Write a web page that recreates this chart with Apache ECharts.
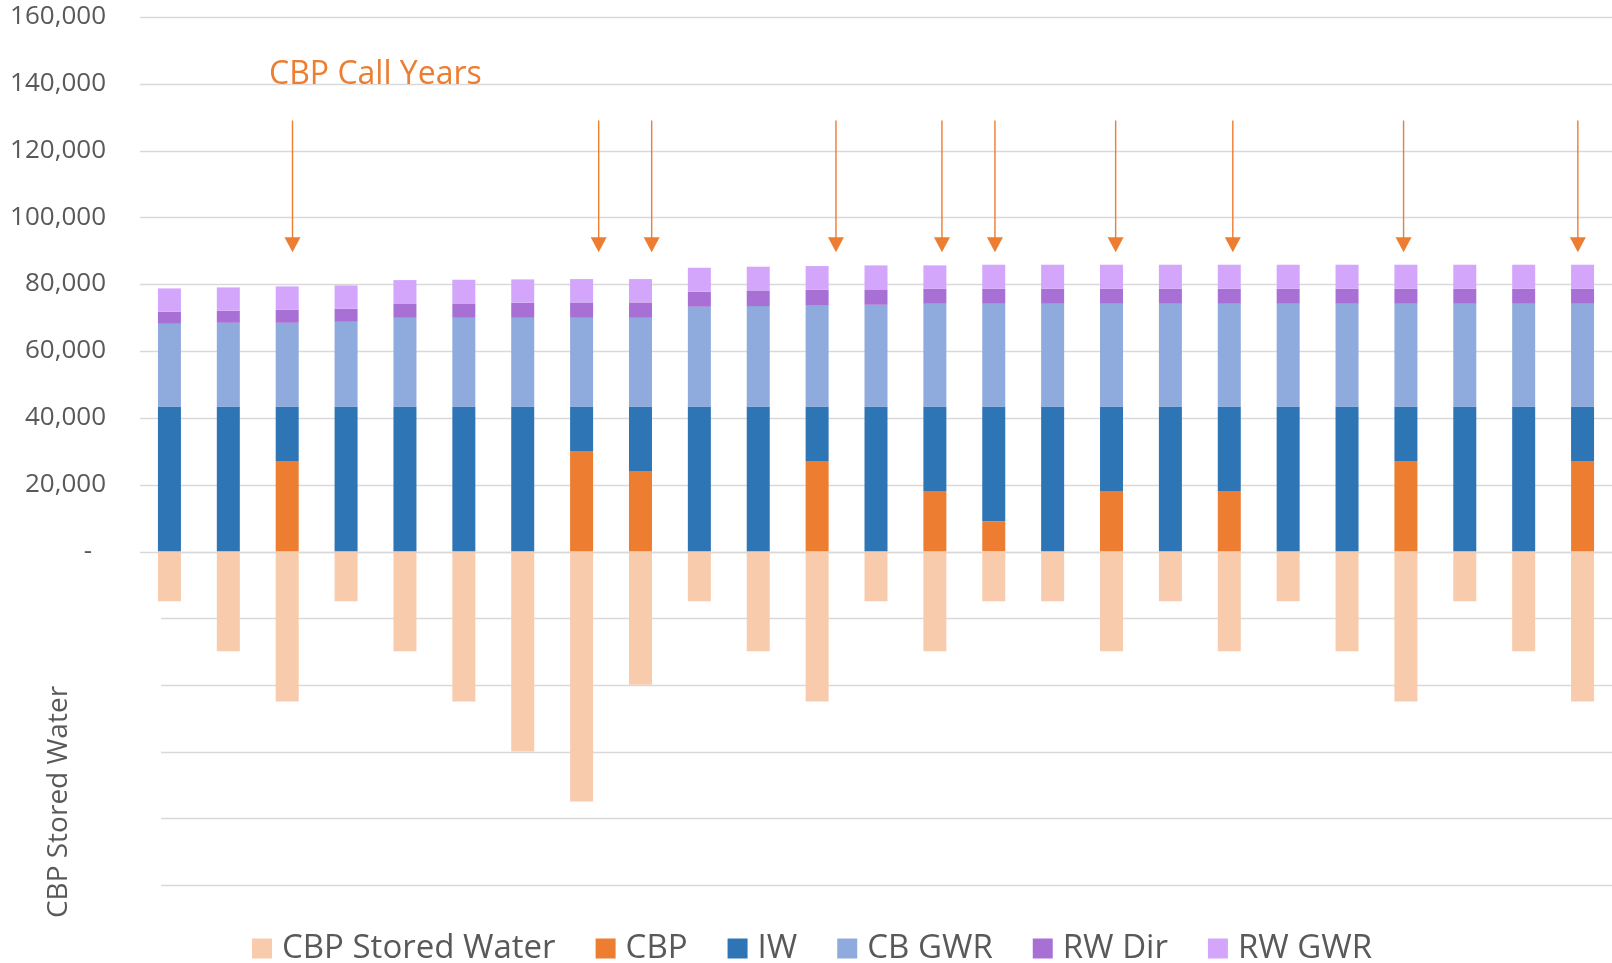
<!DOCTYPE html>
<html>
<head>
<meta charset="utf-8">
<style>
  html, body { margin: 0; padding: 0; background: #ffffff; }
  #chart { width: 1612px; height: 963px; }
</style>
<script src="https://cdn.jsdelivr.net/npm/echarts@6/dist/echarts.min.js"></script>
</head>
<body>
<div id="chart"></div>
<script>
// ---- data ----
const categories = ['Yr 1','Yr 2','Yr 3','Yr 4','Yr 5','Yr 6','Yr 7','Yr 8','Yr 9','Yr 10','Yr 11','Yr 12','Yr 13',
                    'Yr 14','Yr 15','Yr 16','Yr 17','Yr 18','Yr 19','Yr 20','Yr 21','Yr 22','Yr 23','Yr 24','Yr 25'];
const cbpStored = [-15000,-30000,-45000,-15000,-30000,-45000,-60000,-75000,-40000,-15000,-30000,-45000,-15000,
                   -30000,-15000,-15000,-30000,-15000,-30000,-15000,-30000,-45000,-15000,-30000,-45000];
const cbp       = [0,0,27000,0,0,0,0,30000,24000,0,0,27000,0,18000,9000,0,18000,0,18000,0,0,27000,0,0,27000];
const iw        = [43300,43300,16300,43300,43300,43300,43300,13300,19300,43300,43300,16300,43300,
                   25300,34300,43300,25300,43300,25300,43300,43300,16300,43300,43300,16300];
const cbGwr     = [24800,25100,25100,25400,26600,26600,26600,26600,26600,29900,30100,30400,30500,
                   30800,30800,30800,30800,30800,30800,30800,30800,30800,30800,30800,30800];
const rwDir     = [3600,3600,3900,3900,4300,4300,4500,4600,4600,4500,4700,4600,4600,
                   4500,4500,4500,4500,4500,4500,4500,4500,4500,4500,4500,4500];
const rwGwr     = [7000,7000,7000,7000,7000,7100,7000,7000,7000,7200,7100,7100,7200,
                   7000,7200,7200,7200,7200,7200,7200,7200,7200,7200,7200,7200];
const callYears = ['Yr 3','Yr 8','Yr 9','Yr 12','Yr 14','Yr 15','Yr 17','Yr 19','Yr 22','Yr 25'];
const yTicks    = [0,20000,40000,60000,80000,100000,120000,140000,160000];
const seriesNames = ['CBP Stored Water','CBP','IW','CB GWR','RW Dir','RW GWR'];

// ---- styling / annotation placement ----
const colors = ['#F8CBAD','#ED7D31','#2E75B6','#8FAADC','#A870D4','#D3A6FC'];
const FONT = 'Open Sans';
const GREY = '#595959';
const GRID_LINE = { color: '#D9D9D9', width: 1.3 };
const ARROW_TOP = 129000, ARROW_TIP = 89500;
// hand-drawn arrows sit slightly off the bar centres (fraction of a category band)
const arrowShift = [0.09, 0.29, 0.19, 0.32, 0.12, 0.02, 0.07, 0.06, -0.04, -0.08];

const chart = echarts.init(document.getElementById('chart'), null, { renderer: 'canvas' });

const barSeries = [cbpStored, cbp, iw, cbGwr, rwDir, rwGwr].map((d, i) => ({
  name: seriesNames[i],
  type: 'bar',
  stack: 'all',
  xAxisIndex: 0, yAxisIndex: 0,
  barWidth: 23,
  itemStyle: { color: colors[i] },
  data: d,
  z: 3
}));

const arrowSeries = {
  type: 'custom',
  name: 'arrows',
  xAxisIndex: 0, yAxisIndex: 0,
  data: callYears.map((c, i) => [c, ARROW_TIP, arrowShift[i]]),
  z: 5,
  silent: true,
  renderItem: function (params, api) {
    const cat = api.value(0);
    const band = api.size([1, 0])[0];
    const dx = api.value(2) * band;
    const top = api.coord([cat, ARROW_TOP]);
    const tip = api.coord([cat, ARROW_TIP]);
    const x = tip[0] + dx;
    const headH = 15, headW = 16;
    return {
      type: 'group',
      children: [
        { type: 'line', shape: { x1: x, y1: top[1], x2: x, y2: tip[1] - headH + 1 },
          style: { stroke: '#ED7D31', lineWidth: 1.4 } },
        { type: 'polygon', shape: { points: [[x - headW / 2, tip[1] - headH], [x + headW / 2, tip[1] - headH], [x, tip[1]]] },
          style: { fill: '#ED7D31' } }
      ]
    };
  }
};

const option = {
  animation: false,
  backgroundColor: '#ffffff',
  textStyle: { fontFamily: FONT },
  title: {
    text: 'CBP Call Years',
    left: 269, top: 59, padding: 0,
    textStyle: { color: '#ED7D31', fontFamily: FONT, fontSize: 32, fontWeight: 'normal' }
  },
  legend: {
    data: seriesNames,
    left: 252, top: 932, padding: 0,
    icon: 'rect',
    itemWidth: 20, itemHeight: 20,
    itemGap: 40,
    textStyle: { color: GREY, fontFamily: FONT, fontSize: 33, padding: [0, 0, 0, 5] }
  },
  graphic: [{
    type: 'text',
    x: 59, y: 802,
    rotation: Math.PI / 2,
    style: { text: 'CBP Stored Water', fill: GREY, font: '28px "Open Sans"', align: 'center', verticalAlign: 'middle' }
  }],
  grid: [
    { left: 140, right: 0, top: 17, height: 868 },          // bars
    { left: 140, right: 0, top: 17, height: 535 },          // upper grid lines
    { left: 161, right: 0, top: 552, height: 333 }          // lower grid lines
  ],
  xAxis: [
    { gridIndex: 0, type: 'category', data: categories, boundaryGap: true, show: false },
    { gridIndex: 1, type: 'value', min: 0, max: 1, show: false },
    { gridIndex: 2, type: 'value', min: 0, max: 1, show: false }
  ],
  yAxis: [
    { gridIndex: 0, type: 'value', min: -100000, max: 160000, interval: 20000,
      axisLine: { show: false }, axisTick: { show: false }, splitLine: { show: false },
      axisLabel: {
        margin: 34, color: GREY, fontFamily: FONT, fontSize: 26,
        formatter: function (v) {
          if (v < 0) return '';
          if (v === 0) return '{z|-}';
          return v.toLocaleString('en-US');
        },
        rich: { z: { color: GREY, fontFamily: FONT, fontSize: 26, padding: [0, 14, 0, 0] } }
      }
    },
    { gridIndex: 1, type: 'value', min: yTicks[0], max: yTicks[yTicks.length - 1], interval: 20000,
      axisLine: { show: false }, axisTick: { show: false }, axisLabel: { show: false },
      splitLine: { show: true, lineStyle: GRID_LINE } },
    { gridIndex: 2, type: 'value', min: -100000, max: 0, interval: 20000,
      axisLine: { show: false }, axisTick: { show: false }, axisLabel: { show: false },
      splitLine: { show: true, lineStyle: GRID_LINE } }
  ],
  series: barSeries.concat([arrowSeries])
};

chart.setOption(option);
</script>
</body>
</html>
